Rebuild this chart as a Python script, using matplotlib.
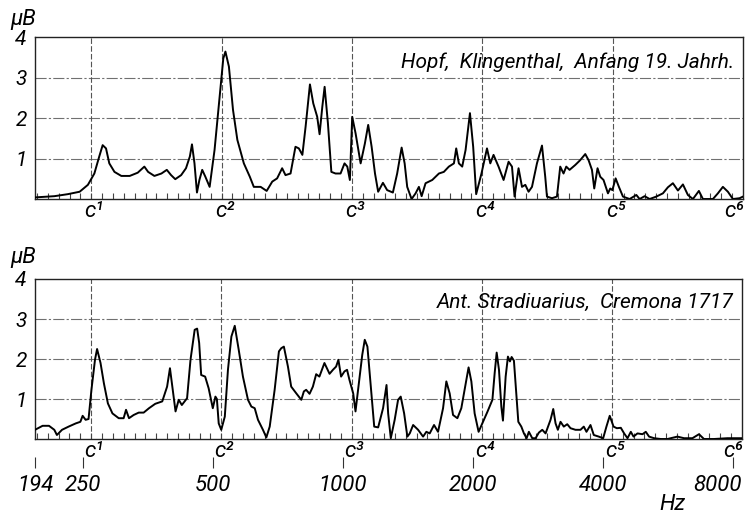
import numpy as np
import matplotlib.pyplot as plt
from matplotlib.ticker import NullFormatter
from matplotlib.transforms import blended_transform_factory

# Resonanzkurven (Frequenz in Hz, Pegel in "μB")
hopf_freq = [194, 215, 231, 246, 257, 266, 273, 278, 283, 288,
             296, 307, 321, 335, 347, 354, 366, 380, 391, 400,
             409, 422, 433, 442, 447, 453, 459, 465, 472, 480,
             491, 504, 517, 528, 534, 544, 556, 569, 589, 608,
             621, 644, 665, 685, 703, 722, 735, 755, 775, 789,
             804, 818, 837, 852, 870, 881, 894, 905, 921, 938,
             959, 985, 1006, 1021, 1035, 1048, 1067, 1096, 1121, 1141,
             1162, 1183, 1203, 1234, 1262, 1301, 1331, 1363, 1385, 1404,
             1437, 1468, 1494, 1516, 1548, 1604, 1662, 1706, 1752, 1800,
             1822, 1848, 1881, 1915, 1960, 1994, 2026, 2084, 2146, 2184,
             2222, 2282, 2344, 2407, 2451, 2485, 2538, 2585, 2631, 2677,
             2726, 2799, 2875, 2925, 2952, 3032, 3113, 3168, 3224, 3271,
             3329, 3431, 3523, 3619, 3683, 3750, 3796, 3863, 3919, 3988,
             4083, 4133, 4180, 4253, 4328, 4422, 4582, 4748, 4832, 4962,
             5096, 5280, 5469, 5616, 5767, 5924, 6083, 6246, 6415, 6622,
             6765, 7134, 7326, 7523, 7726, 7935, 8221, 8372]
hopf_level = [0.04, 0.07, 0.12, 0.18, 0.35, 0.63, 1.05, 1.33, 1.25, 0.88,
              0.67, 0.57, 0.57, 0.65, 0.80, 0.67, 0.57, 0.63, 0.72, 0.59,
              0.49, 0.59, 0.76, 1.05, 1.35, 0.88, 0.16, 0.47, 0.72, 0.55,
              0.30, 1.21, 2.44, 3.47, 3.64, 3.27, 2.20, 1.46, 0.88, 0.55,
              0.30, 0.30, 0.20, 0.43, 0.51, 0.76, 0.59, 0.63, 1.29, 1.25,
              1.09, 1.79, 2.83, 2.36, 2.03, 1.60, 2.28, 2.77, 1.87, 0.67,
              0.63, 0.63, 0.88, 0.80, 0.47, 2.03, 1.62, 0.88, 1.37, 1.83,
              1.29, 0.63, 0.18, 0.40, 0.22, 0.16, 0.63, 1.27, 0.88, 0.30,
              0.00, 0.14, 0.30, 0.07, 0.39, 0.47, 0.63, 0.67, 0.80, 0.88,
              1.25, 0.88, 0.80, 1.21, 2.12, 1.29, 0.12, 0.63, 1.25, 0.88,
              1.09, 0.80, 0.47, 0.92, 0.80, 0.06, 0.76, 0.30, 0.35, 0.18,
              0.30, 0.88, 1.32, 0.55, 0.06, 0.02, 0.06, 0.80, 0.63, 0.80,
              0.72, 0.84, 0.96, 1.11, 0.96, 0.72, 0.26, 0.76, 0.55, 0.47,
              0.14, 0.26, 0.22, 0.51, 0.30, 0.06, 0.00, 0.10, 0.00, 0.07,
              0.00, 0.06, 0.14, 0.29, 0.39, 0.21, 0.36, 0.10, 0.00, 0.20,
              0.00, 0.00, 0.14, 0.30, 0.18, 0.00, 0.02, 0.06]

strad_freq = [194, 202, 209, 215, 218, 224, 232, 241, 247, 250,
              254, 258, 262, 267, 270, 275, 280, 286, 293, 303,
              311, 315, 320, 328, 337, 346, 356, 368, 382, 392,
              398, 404, 410, 417, 424, 436, 444, 454, 460, 465,
              470, 480, 489, 500, 507, 511, 516, 523, 533, 542,
              552, 562, 574, 587, 603, 614, 625, 636, 653, 665,
              677, 695, 711, 720, 730, 746, 759, 780, 801, 812,
              822, 837, 852, 867, 882, 906, 931, 948, 964, 976,
              990, 1008, 1022, 1035, 1056, 1069, 1088, 1108, 1123, 1139,
              1160, 1181, 1206, 1238, 1261, 1272, 1290, 1317, 1341, 1360,
              1385, 1409, 1427, 1453, 1492, 1532, 1559, 1587, 1624, 1659,
              1704, 1734, 1765, 1797, 1839, 1878, 1911, 1952, 1981, 2016,
              2059, 2100, 2158, 2216, 2243, 2267, 2295, 2324, 2344, 2378,
              2407, 2433, 2455, 2485, 2507, 2544, 2585, 2621, 2659, 2691,
              2740, 2789, 2838, 2890, 2941, 3020, 3064, 3102, 3140, 3185,
              3241, 3301, 3359, 3449, 3542, 3605, 3657, 3736, 3802, 3904,
              3997, 4067, 4139, 4224, 4299, 4391, 4469, 4550, 4631, 4698,
              4798, 4928, 5015, 5104, 5242, 5432, 5628, 5936, 6148, 6429,
              6658, 6837, 7210, 7743, 8372]
strad_level = [0.23, 0.33, 0.33, 0.23, 0.10, 0.23, 0.31, 0.39, 0.43, 0.58,
               0.48, 0.50, 1.23, 1.98, 2.25, 1.90, 1.39, 0.89, 0.64, 0.52,
               0.52, 0.73, 0.52, 0.60, 0.66, 0.66, 0.77, 0.88, 0.94, 1.31,
               1.77, 1.23, 0.69, 0.98, 0.85, 1.02, 1.98, 2.73, 2.76, 2.40,
               1.60, 1.56, 1.27, 0.77, 1.06, 1.00, 0.39, 0.23, 0.56, 1.73,
               2.56, 2.83, 2.23, 1.56, 0.98, 0.81, 0.77, 0.48, 0.23, 0.04,
               0.31, 1.23, 2.19, 2.27, 2.31, 1.81, 1.31, 1.14, 0.98, 1.19,
               1.23, 1.13, 1.31, 1.62, 1.56, 1.90, 1.63, 1.73, 1.81, 1.98,
               1.56, 1.69, 1.73, 1.48, 1.14, 0.69, 1.39, 2.10, 2.48, 2.31,
               1.31, 0.31, 0.29, 0.77, 1.35, 0.64, 0.02, 0.48, 0.98, 1.06,
               0.64, 0.06, 0.14, 0.35, 0.23, 0.06, 0.18, 0.14, 0.35, 0.18,
               0.77, 1.44, 1.14, 0.60, 0.52, 0.77, 1.23, 1.79, 1.44, 0.64,
               0.18, 0.39, 0.68, 0.98, 1.65, 2.16, 1.73, 0.81, 0.46, 1.56,
               2.06, 1.94, 2.05, 1.96, 1.39, 0.43, 0.31, 0.14, 0.02, 0.18,
               0.02, 0.02, 0.16, 0.23, 0.14, 0.48, 0.75, 0.39, 0.23, 0.43,
               0.31, 0.37, 0.27, 0.23, 0.23, 0.31, 0.18, 0.35, 0.10, 0.06,
               0.02, 0.31, 0.58, 0.31, 0.27, 0.28, 0.14, 0.02, 0.18, 0.06,
               0.14, 0.12, 0.18, 0.06, 0.02, 0.00, 0.00, 0.06, 0.02, 0.02,
               0.12, 0.00, 0.00, 0.02, 0.02]

c_notes = ['c¹', 'c²', 'c³', 'c⁴', 'c⁵', 'c⁶']
c_freq = [261.6, 523.3, 1046.5, 2093, 4186, 8372]
hz_ticks = [194, 250, 500, 1000, 2000, 4000, 8000]
hz_labels = ['194', '250', '500', '1000', '2000', '4000', '8000']
y_ticks = [1, 2, 3, 4]
titles = ['Hopf,  Klingenthal,  Anfang 19. Jahrh.', 'Ant. Stradiuarius,  Cremona 1717']

plt.rcParams['font.family'] = ['Roboto', 'DejaVu Sans']
plt.rcParams['font.style'] = 'italic'

fig = plt.figure(figsize=(7.48, 5.14), dpi=100)
ax1 = fig.add_axes([0.0468, 0.6128, 0.9465, 0.3152])
ax2 = fig.add_axes([0.0468, 0.1459, 0.9452, 0.3113])

# Halbtonstriche an der Grundlinie
semitones = 261.63 * 2 ** (np.arange(-5, 61) / 12)

for ax, f, v, title, ty in zip([ax1, ax2], [hopf_freq, strad_freq],
                               [hopf_level, strad_level], titles, [0.846, 0.856]):
    ax.set_xscale('log')
    ax.set_xlim(194, 8372)
    ax.set_ylim(0, 4)
    for y in [1, 2, 3]:
        ax.axhline(y, color='#707070', lw=0.8, ls=(0, (10, 2, 2, 2)), zorder=1)
    for cf in c_freq[:-1]:
        ax.axvline(cf, color='#555555', lw=0.8, ls=(0, (5, 2)), zorder=1)
    ax.plot(f, v, color='black', lw=1.4, zorder=3, solid_joinstyle='round')

    ax.set_xticks([])
    ax.set_xticks(semitones[(semitones > 195) & (semitones < 8300)], minor=True)
    ax.xaxis.set_minor_formatter(NullFormatter())
    ax.tick_params(axis='x', which='minor', direction='in', length=4, width=0.8, color='#444444')
    ax.set_yticks(y_ticks)
    ax.set_yticklabels([str(t) for t in y_ticks], fontsize=15)
    ax.tick_params(axis='y', length=0, pad=6)
    for s in ax.spines.values():
        s.set_color('#222222')
        s.set_linewidth(1.0)

    trans = blended_transform_factory(ax.transData, ax.transAxes)
    for cf, name in zip(c_freq[:-1], c_notes[:-1]):
        ax.text(cf * 1.015, -0.075, name, transform=trans, ha='center', va='center',
                fontsize=16, clip_on=False)
    ax.text(1.0, -0.075, c_notes[-1], transform=ax.transAxes, ha='right', va='center',
            fontsize=16, clip_on=False)
    ax.text(0.988, ty, title, transform=ax.transAxes, ha='right', va='center', fontsize=15)

# Frequenzskala unter dem unteren Bild
trans2 = blended_transform_factory(ax2.transData, ax2.transAxes)
ax2.vlines(hz_ticks, -0.18, -0.11, transform=trans2, color='#333333', lw=0.8, clip_on=False)
for hz, lab in zip(hz_ticks, hz_labels):
    ha = 'right' if hz == hz_ticks[-1] else 'center'
    x = 8372 if hz == hz_ticks[-1] else hz
    ax2.text(x, -0.29, lab, transform=trans2, ha=ha, va='center', fontsize=16, clip_on=False)

fig.text(672 / 748, 1 - 505 / 514, 'Hz', ha='center', va='center', fontsize=16)
fig.text(23 / 748, 1 - 20 / 514, 'μB', ha='center', va='center', fontsize=16)
fig.text(23 / 748, 1 - 257 / 514, 'μB', ha='center', va='center', fontsize=16)

fig.savefig('out.png', dpi=100, facecolor='white')
